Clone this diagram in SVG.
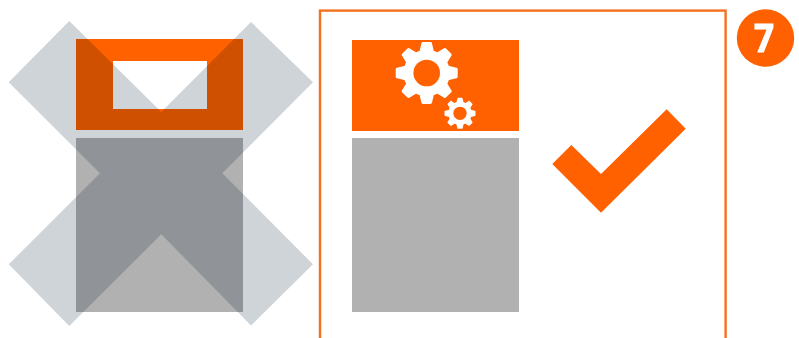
<svg xmlns="http://www.w3.org/2000/svg" width="799" height="338" viewBox="0 0 799 338">
<style>
.o{fill:#ff6000}
.g{fill:#b1b1b1}
.w{fill:#fff}
.x{fill:#cfd4d9;mix-blend-mode:multiply}
.tooth{fill:#fff;stroke:#fff;stroke-width:3;stroke-linejoin:round}
.num{font-family:"Open Sans","Liberation Sans",sans-serif;font-weight:700;font-size:40px;fill:#fff;stroke:#fff;stroke-width:1;text-anchor:middle}
</style>
<defs>
<polygon id="tooth" class="tooth" points="-5.8,-21 -3.8,-29.5 3.8,-29.5 5.8,-21"/>
<g id="gear">
<circle r="23.2" class="w"/>
<use href="#tooth"/>
<use href="#tooth" transform="rotate(45)"/>
<use href="#tooth" transform="rotate(90)"/>
<use href="#tooth" transform="rotate(135)"/>
<use href="#tooth" transform="rotate(180)"/>
<use href="#tooth" transform="rotate(225)"/>
<use href="#tooth" transform="rotate(270)"/>
<use href="#tooth" transform="rotate(315)"/>
<circle r="13.3" class="o"/>
</g>
</defs>
<rect width="799" height="338" fill="#fff"/>
<g id="wrong-layout">
<rect x="76" y="39" width="167" height="91" class="o"/>
<rect x="113" y="61" width="94" height="48" class="w"/>
<rect x="76" y="138" width="167" height="174" class="g"/>
<polygon class="x" points="69.3,21 8.7,82.3 100,173.3 8.7,264.3 69.3,326 161.3,234.3 251,325.5 313,264.3 222.3,173.3 313,82.3 251,22 161.3,112"/>
</g>
<g id="right-layout">
<rect x="320" y="10.6" width="405.6" height="340" fill="none" stroke="#f4711f" stroke-width="2.4"/>
<rect x="352" y="40" width="167" height="91" class="o"/>
<rect x="352" y="138" width="167" height="174" class="g"/>
<use href="#gear" transform="translate(426.7 73)"/>
<use href="#gear" transform="translate(460 113.3) scale(.5)"/>
<polygon class="o" points="552.3,164 571.3,145 601,174 666.7,109.3 685.7,128.7 601,212.7"/>
</g>
<g id="badge">
<circle cx="765.5" cy="38" r="28.7" class="o"/>
<text transform="translate(764 52.4) scale(.88 1)" class="num">7</text>
</g>
</svg>
